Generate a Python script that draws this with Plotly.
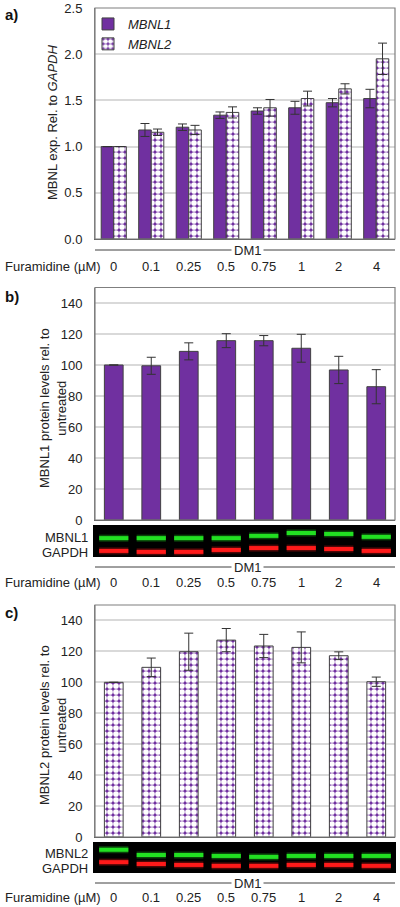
import plotly.graph_objects as go

# ---------------- data ----------------
categories = ["0", "0.1", "0.25", "0.5", "0.75", "1", "2", "4"]

mbnl1_exp = [1.00, 1.18, 1.21, 1.34, 1.385, 1.42, 1.475, 1.52]
mbnl1_exp_err = [0, 0.07, 0.035, 0.035, 0.035, 0.07, 0.045, 0.10]
mbnl2_exp = [1.00, 1.155, 1.18, 1.37, 1.42, 1.52, 1.625, 1.95]
mbnl2_exp_err = [0, 0.035, 0.05, 0.06, 0.09, 0.08, 0.055, 0.17]

mbnl1_protein = [100, 99.5, 108.8, 115.7, 115.7, 110.8, 96.8, 86.0]
mbnl1_protein_err = [0, 5.5, 5.5, 4.5, 3.3, 9.0, 8.8, 11.0]
mbnl2_protein = [100, 109.7, 119.8, 127.3, 123.5, 122.6, 117.2, 100.4]
mbnl2_protein_err = [0, 6.0, 12.0, 7.5, 7.5, 10.0, 2.5, 3.0]

# western blot band heights (fraction of blot strip height, per lane)
blot_b_mbnl1 = [0.59, 0.59, 0.59, 0.59, 0.66, 0.75, 0.72, 0.63]
blot_b_gapdh = [0.19, 0.16, 0.16, 0.22, 0.28, 0.28, 0.25, 0.19]
blot_c_mbnl2 = [0.75, 0.58, 0.58, 0.55, 0.52, 0.55, 0.55, 0.55]
blot_c_gapdh = [0.35, 0.29, 0.26, 0.23, 0.23, 0.26, 0.26, 0.23]

x_label = "Furamidine (µM)"
group_label = "DM1"

# ---------------- layout helpers ----------------
W, H = 400, 907
PURPLE = "#7030A0"
FONT = "Liberation Sans, Arial, sans-serif"
X0, X1 = 95, 395


def px(x):
    return x / W


def py(y):
    return 1 - y / H


pos = list(range(len(categories)))

PATTERN = dict(shape=".", fgcolor="white", bgcolor=PURPLE, size=6,
               solidity=0.7, fillmode="replace")

fig = go.Figure()

# panel a bars
fig.add_trace(go.Bar(
    x=pos, y=mbnl1_exp, name="<i>MBNL1</i>", xaxis="x", yaxis="y",
    offset=-0.335, width=0.335,
    marker=dict(color=PURPLE, line=dict(color="#404040", width=1)),
    error_y=dict(type="data", array=mbnl1_exp_err, color="#333333", thickness=1, width=4.5),
))
fig.add_trace(go.Bar(
    x=pos, y=mbnl2_exp, name="<i>MBNL2</i>", xaxis="x", yaxis="y",
    offset=0.0, width=0.335,
    marker=dict(color="white", line=dict(color="#404040", width=1), pattern=PATTERN),
    error_y=dict(type="data", array=mbnl2_exp_err, color="#333333", thickness=1, width=4.5),
))

# panel b bars
fig.add_trace(go.Bar(
    x=pos, y=mbnl1_protein, xaxis="x2", yaxis="y2", width=0.5, showlegend=False,
    marker=dict(color=PURPLE, line=dict(color="#404040", width=1)),
    error_y=dict(type="data", array=mbnl1_protein_err, color="#333333", thickness=1, width=4.5),
))

# panel c bars
fig.add_trace(go.Bar(
    x=pos, y=mbnl2_protein, xaxis="x4", yaxis="y4", width=0.5, showlegend=False,
    marker=dict(color="white", line=dict(color="#404040", width=1), pattern=PATTERN),
    error_y=dict(type="data", array=mbnl2_protein_err, color="#333333", thickness=1, width=4.5),
))


def band_trace(levels, xa, ya, color, width, opacity):
    xs, ys = [], []
    for i, lv in zip(pos, levels):
        xs += [i - 0.39, i + 0.39, None]
        ys += [lv, lv, None]
    return go.Scatter(x=xs, y=ys, mode="lines", xaxis=xa, yaxis=ya, showlegend=False,
                      hoverinfo="skip", opacity=opacity,
                      line=dict(color=color, width=width))


for lv, col in [(blot_b_mbnl1, "#22e022"), (blot_b_gapdh, "#ff1a1a")]:
    fig.add_trace(band_trace(lv, "x3", "y3", col, 7, 0.3))
    fig.add_trace(band_trace(lv, "x3", "y3", col, 4, 1.0))
for lv, col in [(blot_c_mbnl2, "#22e022"), (blot_c_gapdh, "#ff1a1a")]:
    fig.add_trace(band_trace(lv, "x5", "y5", col, 7, 0.3))
    fig.add_trace(band_trace(lv, "x5", "y5", col, 4, 1.0))

xdom = [px(X0), px(X1)]
grid = "#d9d9d9"
tickfont = dict(family=FONT, size=13, color="#222222")


def xaxis(anchor):
    return dict(domain=xdom, range=[-0.5, 7.5], showticklabels=False, ticks="",
                showgrid=False, zeroline=False, anchor=anchor, automargin=False,
                showline=True, linecolor="#595959", linewidth=1)


def yaxis(anchor, dom, rng, dtick, fmt):
    return dict(domain=dom, range=rng, dtick=dtick, tickformat=fmt, anchor=anchor,
                showgrid=True, gridcolor=grid, gridwidth=1.5, zeroline=False,
                showline=True, linecolor="#7f7f7f", linewidth=1, automargin=False,
                ticks="", ticklabelstandoff=9, tickfont=tickfont)


dom_a = [py(239), py(8)]
dom_b = [py(520), py(287.5)]
dom_bb = [py(557), py(525)]
dom_c = [py(837), py(605)]
dom_cb = [py(873), py(842)]

fig.update_layout(
    width=W, height=H, margin=dict(l=0, r=0, t=0, b=0, autoexpand=False),
    paper_bgcolor="white", plot_bgcolor="white",
    barmode="overlay",
    font=dict(family=FONT, size=13, color="#222222"),
    xaxis=xaxis("y"),
    yaxis=yaxis("x", dom_a, [0, 2.5], 0.5, ".1f"),
    xaxis2=xaxis("y2"),
    yaxis2=yaxis("x2", dom_b, [0, 150], 20, "d"),
    xaxis3=dict(domain=xdom, range=[-0.5, 7.5], visible=False, anchor="y3", automargin=False),
    yaxis3=dict(domain=dom_bb, range=[0, 1], visible=False, anchor="x3", automargin=False),
    xaxis4=xaxis("y4"),
    yaxis4=yaxis("x4", dom_c, [0, 150], 20, "d"),
    xaxis5=dict(domain=xdom, range=[-0.5, 7.5], visible=False, anchor="y5", automargin=False),
    yaxis5=dict(domain=dom_cb, range=[0, 1], visible=False, anchor="x5", automargin=False),
    legend=dict(x=px(88), y=py(9), xanchor="left", yanchor="top",
                bgcolor="rgba(0,0,0,0)", font=dict(family=FONT, size=13, color="#222222"),
                tracegroupgap=0, itemwidth=30),
)

shapes = []
annotations = []


def note(text, x, y, xref="paper", xanchor="center", **kw):
    d = dict(text=text, xref=xref, yref="paper", x=x, y=y, xanchor=xanchor,
             yanchor="middle", showarrow=False)
    d.update(kw)
    annotations.append(d)


# plot frames
for top, bot in [(8, 239), (287.5, 520), (605, 837)]:
    shapes.append(dict(type="rect", xref="paper", yref="paper", x0=px(X0), x1=px(X1),
                       y0=py(bot), y1=py(top), line=dict(color="#7f7f7f", width=1.2),
                       layer="above"))

# blot backgrounds
for top, bot in [(525, 557), (842, 873)]:
    shapes.append(dict(type="rect", xref="paper", yref="paper", x0=px(93), x1=px(396),
                       y0=py(bot), y1=py(top), line=dict(width=0), fillcolor="black",
                       layer="below"))

# DM1 group lines + labels + category labels
for xname, yline, ylab in [("x", 250, 267), ("x2", 567, 582), ("x4", 883, 897)]:
    shapes.append(dict(type="line", xref="paper", yref="paper", x0=px(X0), x1=px(X1),
                       y0=py(yline), y1=py(yline), line=dict(color="#404040", width=1)))
    note(group_label, px(247), py(yline), bgcolor="white", borderpad=2, font=dict(size=13))
    note(x_label, px(3), py(ylab), xanchor="left", font=dict(size=13))
    for i, c in zip(pos, categories):
        note(c, i, py(ylab), xref=xname, font=dict(size=13))

# y-axis titles
note("MBNL exp. Rel. to <i>GAPDH</i>", px(52), py(123), textangle=-90, font=dict(size=13))
note("MBNL1 protein levels rel. to<br>untreated", px(53), py(408), textangle=-90,
     font=dict(size=13))
note("MBNL2 protein levels rel. to<br>untreated", px(53), py(725), textangle=-90,
     font=dict(size=13))

# blot lane labels
for t, y in [("MBNL1", 537), ("GAPDH", 552), ("MBNL2", 853), ("GAPDH", 868)]:
    note(t, px(90), py(y), xanchor="right", font=dict(size=13))

# panel letters
for t, y in [("a)", 15), ("b)", 296), ("c)", 612)]:
    note("<b>%s</b>" % t, px(3), py(y), xanchor="left", font=dict(size=15, color="#111111"))

fig.update_layout(shapes=shapes, annotations=annotations)
fig.write_html("out.html", config={"displayModeBar": False},
               post_script="document.body.style.margin='0px';document.body.style.padding='0px';")
